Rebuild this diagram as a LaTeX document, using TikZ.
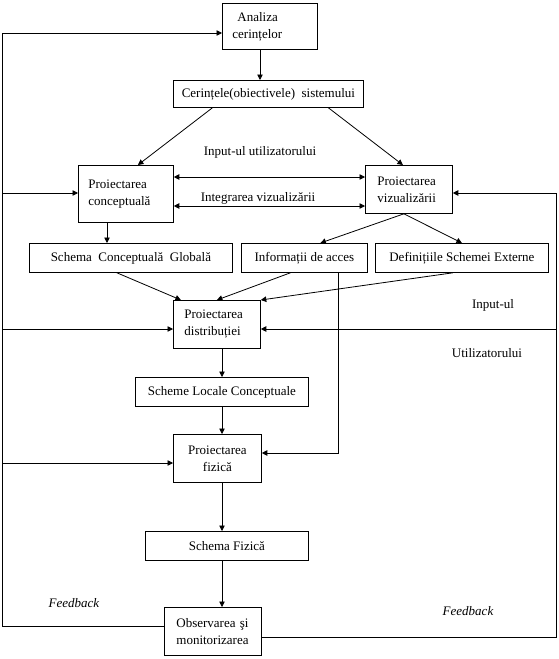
\documentclass[tikz,border=0pt]{standalone}
\usepackage{fontspec}
\setmainfont{Liberation Serif}
\usepackage{tikz}
\usetikzlibrary{arrows.meta}
\tikzset{
  pbox/.style={draw,line width=.8pt,anchor=north west,align=left,inner ysep=0pt,
    font=\fontsize{13}{17}\selectfont},
  dbox/.style={draw,line width=.8pt,anchor=north west,inner sep=0pt,minimum height=29pt,
    font=\fontsize{13}{17}\selectfont},
  flow/.style={-{Triangle[length=5.5pt,width=5.5pt]},line width=.8pt},
  dflow/.style={{Triangle[length=5.5pt,width=5.5pt]}-{Triangle[length=5.5pt,width=5.5pt]},line width=.8pt},
  slabel/.style={font=\fontsize{13}{17}\selectfont},
  fblabel/.style={font=\fontsize{13}{17}\selectfont\itshape}
}

\begin{document}
\begin{tikzpicture}[x=1pt,y=-1pt]
    \useasboundingbox (0,0) rectangle (559,659);
    \node[pbox,text width=75pt,inner xsep=10pt,minimum height=46pt] (analiza) at (222,3) {\hspace*{5pt}Analiza\\cerințelor};
    \node[dbox,minimum width=190pt,minimum height=27pt] (cerinte) at (173,80) {Cerințele(obiectivele)\ \ sistemului};
    \node[pbox,text width=75pt,inner xsep=10pt,minimum height=57pt] (concept) at (78,165) {Proiectarea\\conceptuală};
    \node[pbox,text width=63pt,inner xsep=12pt,minimum height=48pt] (vizual) at (365,165) {Proiectarea\\vizualizării};
    \node[dbox,minimum width=203pt] (globala) at (29,243) {Schema\ \ Conceptuală\ \ Globală};
    \node[dbox,minimum width=126pt] (acces) at (241,243) {Informații de acces};
    \node[dbox,minimum width=173pt] (externe) at (375,243) {Definițiile Schemei Externe};
    \node[pbox,text width=65pt,inner xsep=11pt,minimum height=48pt] (distrib) at (173,300) {Proiectarea\\distribuției};
    \node[dbox,minimum width=173pt] (locale) at (135,377) {Scheme Locale Conceptuale};
    \node[pbox,align=center,text width=68pt,inner xsep=10pt,minimum height=48pt] (fizica) at (173,434) {Proiectarea\\fizică};
    \node[dbox,minimum width=163pt] (fschema) at (145,531) {Schema Fizică};
    \node[pbox,text width=73pt,inner xsep=12pt,minimum height=48pt] (observ) at (164,607) {Observarea~şi\\monitorizarea};

    \node[slabel] (inputsus) at (260,152) {Input-ul utilizatorului};
    \node[slabel] (integr) at (258,198) {Integrarea vizualizării};
    \node[slabel] (inputdr) at (493,305) {Input-ul};
    \node[slabel] (utiliz) at (487,353) {Utilizatorului};
    \node[fblabel] (fbst) at (74,603) {Feedback};
    \node[fblabel] (fbdr) at (468,611) {Feedback};

    \coordinate (lana) at (2,33);
    \coordinate (lcon) at (2,193);
    \coordinate (ldis) at (2,329);
    \coordinate (lfiz) at (2,463);
    \coordinate (lobs) at (2,626);
    \coordinate (rviz) at (556,193);
    \coordinate (rdis) at (556,329);
    \coordinate (robs) at (556,637);
    \coordinate (hsus) at (0,177);
    \coordinate (hjos) at (0,206);
    \coordinate (cax) at (260,0);
    \coordinate (gax) at (107,0);
    \coordinate (max) at (222,0);
    \coordinate (acccot) at (338,453);

    \draw[flow] (analiza.south -| cax) -- (cerinte.north -| cax);
    \draw[flow] ([xshift=-56pt]cerinte.south) -- ([xshift=12pt]concept.north);
    \draw[flow] ([xshift=60pt]cerinte.south) -- ([xshift=-6pt]vizual.north);
    \draw[dflow] (concept.east |- hsus) -- (vizual.west |- hsus);
    \draw[dflow] (concept.east |- hjos) -- (vizual.west |- hjos);
    \draw[flow] (concept.south -| gax) -- (globala.north -| gax);
    \draw[flow] ([xshift=-5pt]vizual.south) -- ([xshift=16pt]acces.north);
    \draw[flow] ([xshift=-5pt]vizual.south) -- (externe.north);
    \draw[flow] ([xshift=-14pt]globala.south) -- ([xshift=-36pt]distrib.north);
    \draw[flow] ([xshift=-14pt]acces.south) -- (distrib.north);
    \draw[flow] ([xshift=-9pt]externe.south) -- (distrib.north east);
    \draw[flow] (acces.south -| acccot) -- (acccot) -- (fizica.east |- acccot);
    \draw[flow] (distrib.south -| max) -- (locale.north -| max);
    \draw[flow] (locale.south -| max) -- (fizica.north -| max);
    \draw[flow] (fizica.south -| max) -- (fschema.north -| max);
    \draw[flow] (fschema.south -| max) -- (observ.north -| max);

    \draw[flow] (observ.west |- lobs) -- (lobs) -- (lana) -- (analiza.west |- lana);
    \draw[flow] (lcon) -- (concept.west |- lcon);
    \draw[flow] (ldis) -- (distrib.west |- ldis);
    \draw[flow] (lfiz) -- (fizica.west |- lfiz);
    \draw[flow] (observ.east |- robs) -- (robs) -- (rviz) -- (vizual.east |- rviz);
    \draw[flow] (rdis) -- (distrib.east |- rdis);
  \end{tikzpicture}
\end{document}
